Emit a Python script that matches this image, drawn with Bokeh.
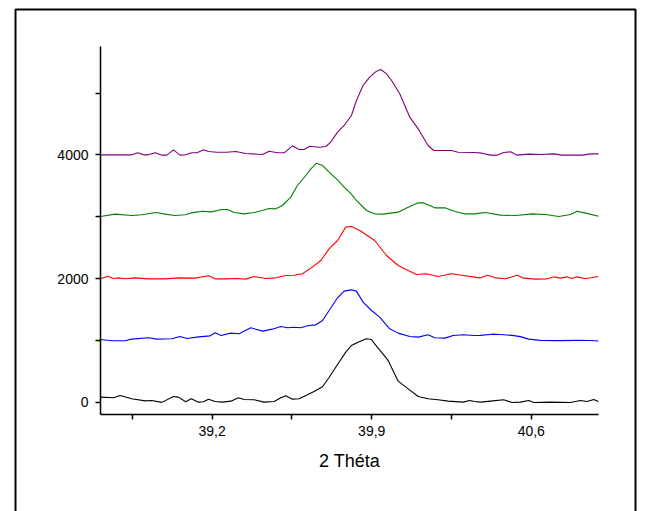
from bokeh.plotting import figure
from bokeh.models import Range1d, FixedTicker, CustomJSTickFormatter, BoxAnnotation, LinearAxis
from bokeh.embed import file_html
from bokeh.resources import INLINE

# 2-theta scans, each stacked 1000 counts above the previous one
black_x = [38.710, 38.767, 38.796, 38.847, 38.906, 38.935, 38.979, 39.030, 39.052, 39.084,
           39.108, 39.140, 39.162, 39.184, 39.213, 39.245, 39.282, 39.315, 39.340, 39.384,
           39.428, 39.472, 39.501, 39.523, 39.552, 39.581, 39.618, 39.647, 39.684, 39.713,
           39.750, 39.786, 39.811, 39.840, 39.877, 39.899, 39.913, 39.972, 40.016, 40.060,
           40.104, 40.147, 40.191, 40.235, 40.301, 40.330, 40.351, 40.377, 40.421, 40.479,
           40.516, 40.552, 40.589, 40.611, 40.684, 40.772, 40.816, 40.845, 40.874, 40.895]
black_y = [82, 71, 109, 55, 22, 28, -3, 92, 82, 6,
           55, 1, 6, 49, 11, 1, 17, 71, 44, 39,
           1, 11, 71, 103, 49, 55, 120, 173, 250, 400,
           610, 809, 917, 971, 1025, 1014, 944, 675, 340, 216,
           92, 55, 39, 17, 1, 28, 11, 1, 17, 39,
           -5, 1, 28, -5, 1, -5, 28, 11, 44, 11]

blue_x = [38.710, 38.760, 38.818, 38.847, 38.920, 38.957, 39.023, 39.059, 39.089, 39.140,
          39.191, 39.213, 39.239, 39.282, 39.318, 39.369, 39.421, 39.464, 39.501, 39.530,
          39.560, 39.589, 39.618, 39.655, 39.684, 39.713, 39.750, 39.779, 39.811, 39.833,
          39.862, 39.899, 39.935, 39.979, 40.016, 40.067, 40.104, 40.147, 40.177, 40.221,
          40.257, 40.301, 40.351, 40.377, 40.428, 40.465, 40.516, 40.552, 40.589, 40.640,
          40.721, 40.801, 40.860, 40.895]
blue_y = [1014, 993, 993, 1020, 1041, 1020, 1025, 1063, 1030, 1057,
          1073, 1122, 1079, 1117, 1106, 1203, 1149, 1181, 1224, 1203,
          1213, 1203, 1235, 1251, 1321, 1483, 1688, 1796, 1817, 1796,
          1618, 1483, 1375, 1187, 1117, 1063, 1052, 1090, 1041, 1036,
          1079, 1090, 1079, 1080, 1100, 1095, 1080, 1060, 1020, 1000,
          995, 1000, 998, 990]

red_x = [38.710, 38.742, 38.767, 38.789, 38.818, 38.862, 38.920, 38.994, 39.052, 39.125,
         39.184, 39.213, 39.263, 39.311, 39.347, 39.384, 39.435, 39.479, 39.523, 39.560,
         39.596, 39.633, 39.677, 39.713, 39.750, 39.786, 39.811, 39.848, 39.913, 39.965,
         40.016, 40.060, 40.096, 40.140, 40.191, 40.250, 40.301, 40.351, 40.377, 40.409,
         40.443, 40.487, 40.538, 40.567, 40.618, 40.670, 40.699, 40.728, 40.757, 40.779,
         40.801, 40.838, 40.895]
red_y = [1995, 2038, 2000, 2011, 1995, 2011, 1995, 1995, 2011, 2006,
         2044, 1995, 1995, 2000, 1990, 2033, 2000, 2011, 2049, 2054,
         2076, 2168, 2292, 2480, 2615, 2831, 2841, 2777, 2615, 2372,
         2211, 2130, 2065, 2076, 2033, 2076, 2049, 2022, 2011, 2054,
         2011, 1995, 2054, 2006, 1990, 1995, 2027, 2006, 2027, 2001,
         2027, 1995, 2033]

green_x = [38.710, 38.774, 38.847, 38.891, 38.953, 38.994, 39.037, 39.081, 39.111, 39.155,
           39.198, 39.242, 39.267, 39.296, 39.340, 39.384, 39.421, 39.450, 39.479, 39.508,
           39.545, 39.574, 39.611, 39.633, 39.658, 39.684, 39.713, 39.750, 39.779, 39.807,
           39.833, 39.877, 39.913, 39.950, 40.016, 40.060, 40.104, 40.126, 40.177, 40.221,
           40.265, 40.308, 40.351, 40.399, 40.465, 40.531, 40.604, 40.662, 40.721, 40.772,
           40.801, 40.838, 40.895]
green_y = [3003, 3041, 3019, 3030, 3068, 3041, 3019, 3030, 3062, 3089,
           3078, 3116, 3116, 3068, 3046, 3068, 3100, 3132, 3127, 3181,
           3316, 3504, 3666, 3774, 3865, 3828, 3720, 3596, 3477, 3380,
           3262, 3100, 3046, 3041, 3073, 3154, 3224, 3224, 3143, 3143,
           3084, 3046, 3046, 3068, 3025, 3019, 3046, 3035, 3003, 3035,
           3089, 3057, 3008]

purple_x = [38.710, 38.847, 38.874, 38.899, 38.920, 38.950, 38.979, 39.001, 39.030, 39.059,
            39.081, 39.111, 39.133, 39.162, 39.184, 39.220, 39.263, 39.304, 39.347, 39.421,
            39.450, 39.486, 39.516, 39.552, 39.581, 39.603, 39.628, 39.669, 39.699, 39.720,
            39.750, 39.779, 39.811, 39.833, 39.862, 39.891, 39.921, 39.940, 39.965, 39.987,
            40.023, 40.067, 40.104, 40.147, 40.172, 40.213, 40.250, 40.279, 40.351, 40.384,
            40.421, 40.450, 40.479, 40.509, 40.538, 40.589, 40.640, 40.699, 40.735, 40.823,
            40.860, 40.895]
purple_y = [4000, 4000, 4033, 4000, 4000, 4033, 3995, 3995, 4081, 3995,
            4000, 4033, 4033, 4081, 4054, 4043, 4043, 4054, 4022, 4005,
            4059, 4033, 4033, 4146, 4087, 4087, 4140, 4124, 4135, 4205,
            4367, 4475, 4636, 4879, 5121, 5256, 5353, 5380, 5310, 5202,
            4987, 4609, 4421, 4151, 4070, 4070, 4070, 4043, 4038, 4027,
            3995, 3995, 4038, 4049, 3995, 4011, 4005, 4016, 3995, 3995,
            4016, 4016]

x_major = [39.2, 39.9, 40.6]
x_minor = [38.85, 39.55, 40.25]
y_major = [0, 2000, 4000]
y_minor = [1000, 3000, 5000]

# axis extents in data units
X0, X1 = 38.71, 40.895
Y0, Y1 = -199, 5752

# page layout in pixels: canvas, axis box and the surrounding page frame
W, H = 645, 511
AX_L, AX_R, AX_T, AX_B = 100, 598, 46, 414
PG_L, PG_R, PG_T = 15, 635, 9

sx = (X1 - X0) / (AX_R - AX_L)
sy = (Y1 - Y0) / (AX_B - AX_T)
x_start, x_end = X0 - AX_L * sx, X1 + (W - AX_R) * sx
y_start, y_end = Y0 - (H - AX_B) * sy, Y1 + AX_T * sy

FONT = "Liberation Sans"

p = figure(width=W, height=H, output_backend="svg", toolbar_location=None,
           x_range=Range1d(x_start, x_end), y_range=Range1d(y_start, y_end),
           x_axis_type=None, y_axis_type=None, min_border=0)
p.outline_line_color = None
p.xgrid.visible = False
p.ygrid.visible = False
p.background_fill_color = "white"
p.border_fill_color = "white"

series = [
    (black_x, black_y, "#000000"),
    (blue_x, blue_y, "#0000ff"),
    (red_x, red_y, "#ff0000"),
    (green_x, green_y, "#008000"),
    (purple_x, purple_y, "#800080"),
]
for xs, ys, col in series:
    p.line(xs, ys, line_color=col, line_width=1.1)

xaxis = LinearAxis(fixed_location=Y0, bounds=(X0, X1),
                   ticker=FixedTicker(ticks=x_major, minor_ticks=x_minor),
                   formatter=CustomJSTickFormatter(code="return tick.toFixed(1).replace('.', ',');"))
yaxis = LinearAxis(fixed_location=X0, bounds=(Y0, Y1),
                   ticker=FixedTicker(ticks=y_major, minor_ticks=y_minor))

for ax in (xaxis, yaxis):
    ax.axis_line_color = "black"
    ax.axis_line_width = 1.5
    ax.major_tick_line_color = "black"
    ax.major_tick_line_width = 1.5
    ax.minor_tick_line_color = "black"
    ax.minor_tick_line_width = 1.5
    ax.major_tick_in = 0
    ax.major_tick_out = 5
    ax.minor_tick_in = 0
    ax.minor_tick_out = 5
    ax.major_label_text_font = FONT
    ax.major_label_text_font_size = "14px"
    ax.major_label_text_color = "black"

xaxis.major_label_standoff = 6
yaxis.major_label_standoff = 7

xaxis.axis_label = "2 Théta"
xaxis.axis_label_text_font = FONT
xaxis.axis_label_text_font_size = "18px"
xaxis.axis_label_text_font_style = "normal"
xaxis.axis_label_text_color = "black"
xaxis.axis_label_standoff = 12

p.add_layout(xaxis, "below")
p.add_layout(yaxis, "left")

# page frame around the graph, open at the bottom edge of the page
frame_box = BoxAnnotation(left=x_start + PG_L * sx, right=x_start + PG_R * sx,
                          top=y_end - PG_T * sy, bottom=y_start - 50 * sy,
                          fill_color=None, fill_alpha=0,
                          line_color="black", line_alpha=1.0, line_width=2)
p.add_layout(frame_box)

open("out.html", "w").write(file_html(p, INLINE))
